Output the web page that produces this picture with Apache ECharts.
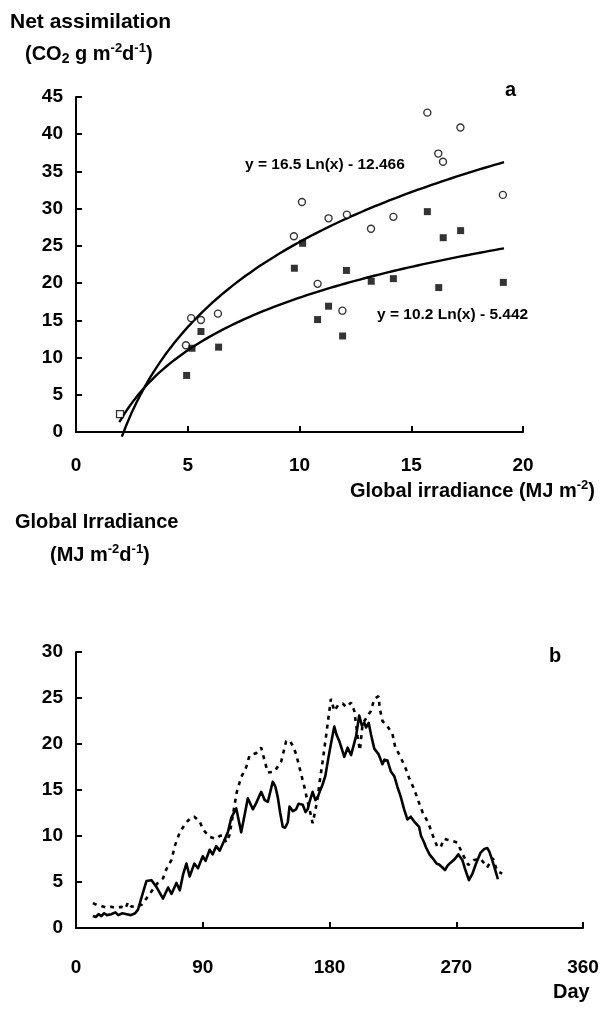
<!DOCTYPE html>
<html><head><meta charset="utf-8">
<script src="https://cdn.jsdelivr.net/npm/echarts@6/dist/echarts.min.js"></script>
<style>html,body{margin:0;padding:0;background:#fff}#c{width:607px;height:1030px}</style>
</head><body><div id="c"></div>
<script>
// ---- Panel a : net assimilation vs global irradiance ----
const openCircles = [[4.92,11.65],[5.15,15.3],[5.59,15.05],[6.35,15.9],[9.75,26.3],[10.11,30.9],[10.81,19.9],[11.3,28.7],[11.92,16.3],[12.12,29.2],[13.2,27.3],[14.2,28.9],[15.72,42.9],[16.21,37.4],[16.42,36.3],[17.2,40.9],[19.1,31.85]];
const filledSquares = [[4.95,7.6],[5.19,11.25],[5.59,13.5],[6.38,11.4],[9.77,22.0],[10.14,25.35],[10.81,15.1],[11.3,16.9],[11.93,12.9],[12.1,21.7],[13.21,20.25],[14.2,20.6],[15.72,29.6],[16.23,19.4],[16.43,26.1],[17.21,27.05],[19.12,20.1]];
const lowPoint = [[1.97,2.4]];
const fitOpen = {a:16.5, b:-12.466, from:2.05, to:19.15};
const fitFilled = {a:10.2, b:-5.442, from:1.94, to:19.15};
const eqOpenText = 'y = 16.5 Ln(x) - 12.466';
const eqFilledText = 'y = 10.2 Ln(x) - 5.442';
const aXRange = [0, 20, 5];
const aYRange = [0, 45, 5];

// ---- Panel b : global irradiance through the year ----
const solidDays   = [12,14,16,18,20,22,25,28,30,33,36,39,42,44,46.5,50,53.6,57,61.8,65.4,67.8,71.3,73.7,76,78.4,80.7,84,86.6,90,92,94.9,97,99.6,102,105.5,108,110.3,113.8,117.3,120,122,125.6,128,131.5,134,136.2,139.7,141.5,143.3,145,146.8,148.5,150.4,151.6,154,156.3,158,161,163,164.5,166,168,170,171.6,173,175.1,177,179,181,183.4,185,187,190.5,192.9,195.3,198.8,201.1,203,204.7,206,207.8,209.5,211.8,214.8,217.6,219,221.2,223.6,226,228.3,230.5,233,235.3,237.7,240,241.3,243.6,245,247.2,248.4,251,254.2,256,257.8,260,262,264,266,269,271.5,274.3,276.5,279,281.5,283.8,287.3,290,292,293.5,295.5,297.5,299.6];
const solidValues = [1.3,1.2,1.5,1.3,1.6,1.4,1.5,1.7,1.4,1.6,1.5,1.4,1.6,2.0,3.3,5.1,5.2,4.5,3.2,4.4,3.7,4.9,4.1,5.8,7.0,5.6,7.0,6.5,7.8,7.3,8.5,8.0,8.9,8.4,9.6,10.5,12.0,13.0,10.4,12.5,14.1,12.9,13.6,14.8,13.9,13.7,15.9,15.4,14.2,12.5,11.0,10.9,11.5,13.2,12.7,12.9,13.5,13.4,12.6,12.9,13.8,14.8,13.9,14.2,14.8,15.6,16.5,18.3,20.0,21.9,21.0,20.3,18.6,19.6,18.8,20.8,23.1,22.0,22.3,21.8,22.3,21.0,19.5,18.9,17.8,18.3,18.2,17.0,16.5,15.3,14.3,12.9,11.8,12.1,11.6,11.5,11.0,10.0,9.3,8.8,8.0,7.4,7.0,6.9,6.6,6.3,6.8,7.1,7.5,8.0,7.4,6.3,5.2,5.9,6.9,8.2,8.6,8.7,8.3,7.4,6.4,5.3];
const dashedDays   = [12,15,18,21.7,25,28,32.4,35,37,39.4,42,46.5,49,52.4,55,58,61.8,64.2,67.8,70.1,73.7,77.9,81.9,84,87.8,90.2,94.9,99.6,102,104.3,106.7,109,111.4,114.2,117.3,120.9,123.2,127.9,131.5,133.9,136.2,140.9,145.7,149.2,151.6,154,156.3,158.6,162.2,164.5,166,168,170,171.6,173,175.1,177.5,179.9,181,183.4,186,189.3,192,195.3,197.6,200,201.6,203.5,206,209.4,211.8,214.8,215.8,217.6,221.2,224.7,226.6,230.7,234.2,236.5,240.1,243.1,246,250.2,253.5,256.6,259,261.3,266,270.7,274.3,278.5,282.6,287.3,290,292,296,299,302.6];
const dashedValues = [2.7,2.5,2.4,2.2,2.3,2.2,2.3,2.1,2.8,2.3,2.4,2.5,3.0,3.7,4.3,4.9,5.4,6.4,7.4,8.9,10.4,11.4,12.05,12.1,11.6,10.7,9.9,9.7,10.0,10.1,9.3,10.1,12.3,14.8,16.4,17.5,18.75,19.0,19.6,18.2,16.9,17.0,18.1,20.3,20.4,19.8,18.9,17.5,15.3,13.7,12.8,11.4,12.8,14.2,15.9,18.1,20.8,23.6,24.9,23.6,24.2,24.4,24.0,24.5,23.6,20.8,19.3,22.2,22.8,23.6,24.9,25.2,23.8,22.5,21.9,21.1,19.7,18.5,17.3,16.3,15.1,13.8,12.6,11.4,10.0,8.8,8.8,9.7,9.5,9.3,8.1,6.85,7.4,7.5,7.0,6.6,7.6,6.2,5.9];
const bXRange = [0, 360, 90];
const bYRange = [0, 30, 5];

function fitCurve(f){
  const pts=[]; const n=80;
  for(let i=0;i<=n;i++){const x=f.from+(f.to-f.from)*i/n; pts.push([x, f.a*Math.log(x)+f.b]);}
  return pts;
}
function pairs(xs, ys){return xs.map((d,i)=>[d, ys[i]]);}

const FF = '"Liberation Sans", Arial, sans-serif';
const lab = {fontFamily:FF, fontWeight:'bold', fontSize:19, color:'#000'};
const axLine = {show:true, lineStyle:{color:'#000', width:2}};
const axTick = {show:true, inside:true, length:6, lineStyle:{color:'#000', width:2}};

const sup = {fontFamily:FF, fontWeight:'bold', fontSize:13, verticalAlign:'top', lineHeight:24, color:'#000'};
const sub = {fontFamily:FF, fontWeight:'bold', fontSize:14, verticalAlign:'bottom', lineHeight:24, color:'#000'};
const nrm = {fontFamily:FF, fontWeight:'bold', fontSize:20, lineHeight:24, color:'#000'};
function rt(left, top, text){return {type:'text', left, top, style:{text, rich:{n:nrm, sp:sup, sb:sub}, fill:'#000'}};}
function pt(left, top, text, size){return {type:'text', left, top, style:{text, font:'bold '+size+'px '+FF, fill:'#000'}};}

const chart = echarts.init(document.getElementById('c'), null, {renderer:'canvas'});
chart.setOption({
  animation:false,
  backgroundColor:'#fff',
  grid:[
    {left:76, top:97, width:447, height:335},
    {left:76, top:652, width:507, height:276}
  ],
  xAxis:[
    {gridIndex:0, type:'value', min:aXRange[0], max:aXRange[1], interval:aXRange[2], axisLine:axLine, axisTick:axTick, splitLine:{show:false}, axisLabel:Object.assign({margin:24}, lab)},
    {gridIndex:1, type:'value', min:bXRange[0], max:bXRange[1], interval:bXRange[2], axisLine:axLine, axisTick:axTick, splitLine:{show:false}, axisLabel:Object.assign({margin:30}, lab)}
  ],
  yAxis:[
    {gridIndex:0, type:'value', min:aYRange[0], max:aYRange[1], interval:aYRange[2], axisLine:axLine, axisTick:axTick, splitLine:{show:false}, axisLabel:Object.assign({margin:13}, lab)},
    {gridIndex:1, type:'value', min:bYRange[0], max:bYRange[1], interval:bYRange[2], axisLine:axLine, axisTick:axTick, splitLine:{show:false}, axisLabel:Object.assign({margin:13}, lab)}
  ],
  series:[
    {type:'line', xAxisIndex:0, yAxisIndex:0, data:fitCurve(fitOpen), showSymbol:false, clip:false, lineStyle:{color:'#000', width:2.4}, z:2},
    {type:'line', xAxisIndex:0, yAxisIndex:0, data:fitCurve(fitFilled), showSymbol:false, clip:false, lineStyle:{color:'#000', width:2.4}, z:2},
    {type:'scatter', xAxisIndex:0, yAxisIndex:0, data:openCircles, symbol:'circle', symbolSize:7, itemStyle:{color:'#fff', borderColor:'#000', borderWidth:1.4}, z:3},
    {type:'scatter', xAxisIndex:0, yAxisIndex:0, data:filledSquares, symbol:'rect', symbolSize:7, itemStyle:{color:'#000'}, z:3},
    {type:'scatter', xAxisIndex:0, yAxisIndex:0, data:lowPoint, symbol:'rect', symbolSize:7, itemStyle:{color:'#fff', borderColor:'#000', borderWidth:1.3}, z:3},
    {type:'line', xAxisIndex:1, yAxisIndex:1, data:pairs(dashedDays, dashedValues), showSymbol:false, lineStyle:{color:'#000', width:2.6, type:[4,5]}, z:2},
    {type:'line', xAxisIndex:1, yAxisIndex:1, data:pairs(solidDays, solidValues), showSymbol:false, lineStyle:{color:'#000', width:2.6, join:'round'}, z:3}
  ],
  graphic:[
    pt(10, 12, 'Net assimilation', 21),
    rt(25, 42, '{n|(CO}{sb|2}{n| g m}{sp|-2}{n|d}{sp|-1}{n|)}'),
    pt(505, 80, 'a', 20),
    pt(245, 157, eqOpenText, 15.5),
    pt(377, 307, eqFilledText, 15.5),
    rt(350, 479, '{n|Global irradiance (MJ m}{sp|-2}{n|)}'),
    pt(15, 512, 'Global Irradiance', 20),
    rt(50, 543, '{n|(MJ m}{sp|-2}{n|d}{sp|-1}{n|)}'),
    pt(549, 646, 'b', 20),
    pt(553, 982, 'Day', 20)
  ]
});
</script></body></html>
